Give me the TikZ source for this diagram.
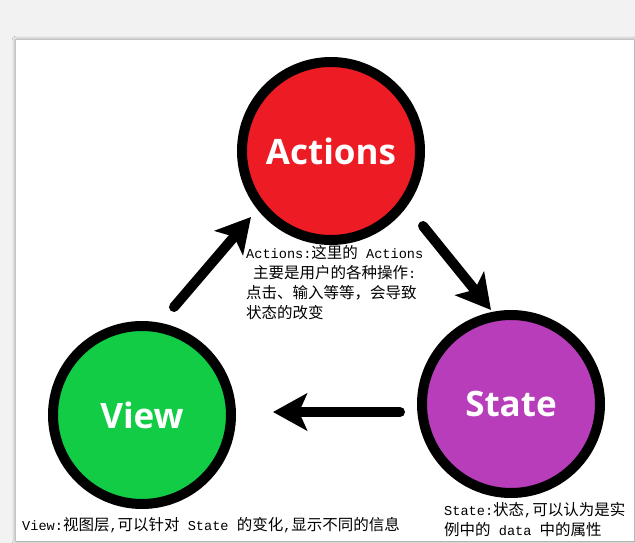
\documentclass[tikz,border=0pt]{standalone}
\usepackage{fontspec}
\newfontfamily\cjk{Noto Sans CJK SC}
\newfontfamily\mono{Liberation Mono}
\newfontfamily\bigfont{Open Sans}
\usetikzlibrary{arrows.meta,shadows.blur}
\newcommand\lat[1]{{\mono\fontsize{13.6}{20}\selectfont #1}}
\definecolor{bggray}{HTML}{F2F2F2}
\definecolor{actred}{HTML}{ED1C24}
\definecolor{stpurple}{HTML}{B83DBA}
\definecolor{vwgreen}{HTML}{11CC44}
\tikzset{
  stagecircle/.style={circle, draw=black, line width=10pt, minimum size=178pt, inner sep=0pt,
    text=white, font=\bigfont\bfseries\fontsize{35}{40}\selectfont},
  flowarrow/.style={line width=10pt, line cap=round, draw=black,
    -{Stealth[length=34pt, width=37pt, inset=8pt]}},
  desc/.style={inner sep=0pt, align=left, font=\cjk\fontsize{15.5}{20}\selectfont}
}
\begin{document}
\begin{tikzpicture}[x=1pt,y=-1pt]
\useasboundingbox (0,0) rectangle (635,543);
\fill[bggray] (0,0) rectangle (635,543);
\path[fill=white, blur shadow={shadow xshift=0pt, shadow yshift=0pt, shadow blur radius=4pt, shadow opacity=45}] (16,40) rectangle (634,541);

\node[stagecircle, fill=actred] (actions) at (331,151) {Actions};
\node[stagecircle, fill=stpurple] (state) at (511,404) {State};
\node[stagecircle, fill=vwgreen] (view) at (142,415) {View};

\coordinate (a1s) at (174,307);
\coordinate (a1e) at (251,217);
\coordinate (a2s) at (423,226);
\coordinate (a2e) at (491,310);
\coordinate (a3s) at (400,412);
\coordinate (a3e) at (273,412);
\draw[flowarrow] (a1s) -- (a1e);
\draw[flowarrow] (a2s) -- (a2e);
\draw[flowarrow] (a3s) -- (a3e);

\node[desc, anchor=north west] (actdesc) at (246,245)
  {\lat{Actions:}这里的\lat{~Actions}\\
   \hspace*{7pt}主要是用户的各种操作\lat{:}\\
   点击、输入等等，会导致\\
   状态的改变};
\node[desc, anchor=north west] (statedesc) at (444,502)
  {\lat{State:}状态\lat{,}可以认为是实\\
   例中的\lat{~data~}中的属性};
\node[desc, anchor=north west] (viewdesc) at (22,517)
  {\lat{View:}视图层\lat{,}可以针对\lat{~State~}的变化\lat{,}显示不同的信息};
\end{tikzpicture}
\end{document}
